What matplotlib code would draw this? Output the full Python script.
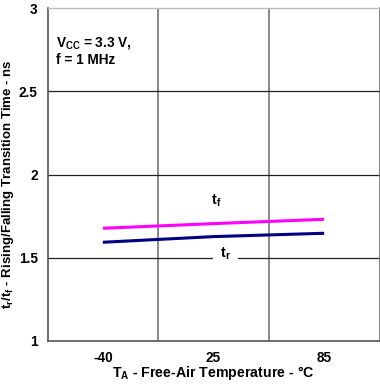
import matplotlib
matplotlib.use("Agg")
import matplotlib.pyplot as plt

plt.rcParams["font.family"] = ["Liberation Sans", "DejaVu Sans"]
plt.rcParams["font.weight"] = "bold"
plt.rcParams["mathtext.fontset"] = "custom"
plt.rcParams["mathtext.rm"] = "Liberation Sans:bold"
plt.rcParams["mathtext.it"] = "Liberation Sans:bold"
plt.rcParams["mathtext.bf"] = "Liberation Sans:bold"

temps = ["-40", "25", "85"]
t_fall = [1.677, 1.705, 1.731]
t_rise = [1.593, 1.627, 1.647]
y_ticks = [1, 1.5, 2, 2.5, 3]
y_labels = ["1", "1.5", "2", "2.5", "3"]

fig = plt.figure(figsize=(3.8, 3.88), dpi=100)
ax = fig.add_axes([47.5 / 380, 1 - 341 / 388, (379.5 - 47.5) / 380, (341 - 8) / 388])

x = list(range(len(temps)))
ax.plot(x, t_fall, color="#FF00FF", lw=2.2, solid_capstyle="butt", zorder=3)
ax.plot(x, t_rise, color="#000080", lw=2.2, solid_capstyle="butt", zorder=3)

ax.set_xlim(-0.5, len(temps) - 0.5)
ax.set_ylim(1, 3)
ax.set_xticks(x)
ax.set_xticklabels(temps, fontsize=9.8, fontweight="bold")
ax.set_yticks(y_ticks)
ax.set_yticklabels(y_labels, fontsize=9.8, fontweight="bold")
ax.tick_params(axis="y", length=0, pad=7)
ax.tick_params(axis="x", length=0, pad=7)

# grid
for v in [0.5, 1.5]:
    ax.axvline(v, color="#808080", lw=1.3, zorder=1)
for v in y_ticks[1:-1]:
    ax.axhline(v, color="#222222", lw=0.9, zorder=1)

for s in ["left", "bottom"]:
    ax.spines[s].set_color("#555555")
    ax.spines[s].set_linewidth(1.2)
ax.spines["right"].set_color("#707070")
ax.spines["right"].set_linewidth(1.2)
ax.spines["top"].set_color("#bbbbbb")
ax.spines["top"].set_linewidth(1.0)

ax.text(0.025, 0.895, r"V$_{\mathrm{CC}}$ = 3.3 V,", transform=ax.transAxes,
        fontsize=9.8, fontweight="bold", va="center")
ax.text(0.025, 0.845, "f = 1 MHz", transform=ax.transAxes,
        fontsize=9.8, fontweight="bold", va="center")

ax.text(1.02, 1.84, r"t$_{\mathrm{f}}$", fontsize=10.5, fontweight="bold",
        ha="center", va="center", zorder=4)
ax.text(1.11, 1.525, r"t$_{\mathrm{r}}$", fontsize=10.5, fontweight="bold",
        ha="center", va="center", zorder=4,
        bbox=dict(facecolor="white", edgecolor="none", pad=5))

ax.set_xlabel(r"T$_{\mathrm{A}}$ - Free-Air Temperature - °C", fontsize=10.2,
              fontweight="bold")
ax.xaxis.set_label_coords(0.5, -0.07)
ax.set_ylabel(r"t$_{\mathrm{r}}$/t$_{\mathrm{f}}$ - Rising/Falling Transition Time - ns",
              fontsize=9.5, fontweight="bold")
ax.yaxis.set_label_coords(-0.095, 0.47)

fig.savefig("out.png", dpi=100)
